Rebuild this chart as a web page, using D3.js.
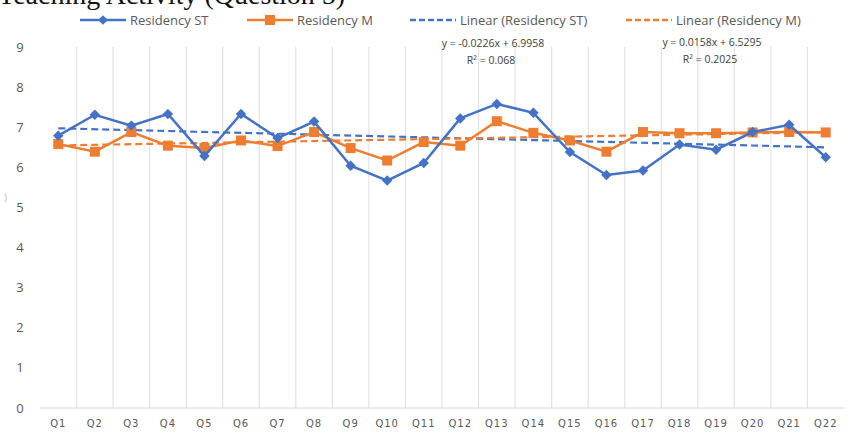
<!DOCTYPE html>
<html>
<head>
<meta charset="utf-8">
<script src="https://cdn.jsdelivr.net/npm/d3@7"></script>
<style>
  body { margin: 0; background: #fff; }
  svg { display: block; }
</style>
</head>
<body>
<svg id="chart" width="858" height="435"></svg>
<script>
// data
const questions = ["Q1","Q2","Q3","Q4","Q5","Q6","Q7","Q8","Q9","Q10","Q11",
                   "Q12","Q13","Q14","Q15","Q16","Q17","Q18","Q19","Q20","Q21","Q22"];
const residencyST = [6.79, 7.31, 7.04, 7.33, 6.28, 7.33, 6.73, 7.14, 6.04, 5.67, 6.11,
                     7.22, 7.58, 7.36, 6.38, 5.81, 5.92, 6.57, 6.44, 6.88, 7.06, 6.25];
const residencyM = [6.58, 6.39, 6.88, 6.54, 6.48, 6.67, 6.53, 6.88, 6.48, 6.17, 6.63,
                    6.54, 7.15, 6.86, 6.67, 6.39, 6.88, 6.85, 6.85, 6.87, 6.88, 6.87];
const yTicks = [0, 1, 2, 3, 4, 5, 6, 7, 8, 9];
// trendline coefficients as printed on the chart
const trendST = { slope: -0.0226, intercept: 6.9958, eq: "y = -0.0226x + 6.9958", r2: "R² = 0.068" };
const trendM = { slope: 0.0158, intercept: 6.5295, eq: "y = 0.0158x + 6.5295", r2: "R² = 0.2025" };

const blue = "#4472c4";
const orange = "#ed7d31";
const textGray = "#595959";

const svg = d3.select("#chart");
const margin = { top: 47, right: 14, bottom: 27, left: 40 };
const width = 858 - margin.left - margin.right;
const height = 435 - margin.top - margin.bottom;

// title, cut off at the top of the picture
svg.append("text")
  .attr("x", -2).attr("y", 4)
  .attr("font-family", "Liberation Serif, serif")
  .attr("font-size", 28)
  .attr("fill", "#111")
  .text("Teaching Activity (Question 5)");

const g = svg.append("g").attr("transform", `translate(${margin.left},${margin.top})`);

const x = d3.scaleBand().domain(questions).range([0, width]);
const y = d3.scaleLinear().domain([0, 9]).range([height, 0]);
const xc = d => x(d) + x.bandwidth() / 2;

// vertical gridlines at category edges
g.selectAll(".vgrid")
  .data(questions.slice(1))
  .join("line")
  .attr("class", "vgrid")
  .attr("x1", d => x(d)).attr("x2", d => x(d))
  .attr("y1", 0).attr("y2", height)
  .attr("stroke", "#e2e2e2")
  .attr("stroke-width", 1.2);

// bottom axis line
g.append("line")
  .attr("x1", 0).attr("x2", width)
  .attr("y1", height).attr("y2", height)
  .attr("stroke", "#d9d9d9");

// y tick labels
g.selectAll(".ylab")
  .data(yTicks)
  .join("text")
  .attr("class", "ylab")
  .attr("x", -20).attr("y", d => y(d))
  .attr("dy", "0.35em")
  .attr("text-anchor", "middle")
  .attr("font-family", "Open Sans, sans-serif")
  .attr("font-size", 13)
  .attr("fill", textGray)
  .text(d => d);

// x tick labels
g.selectAll(".xlab")
  .data(questions)
  .join("text")
  .attr("class", "xlab")
  .attr("x", d => xc(d)).attr("y", height + 19)
  .attr("text-anchor", "middle")
  .attr("font-family", "DejaVu Sans, sans-serif")
  .attr("font-size", 10)
  .attr("letter-spacing", 1)
  .attr("fill", textGray)
  .text(d => d);

// stray mark left of the axis
svg.append("text")
  .attr("x", 4).attr("y", 201)
  .attr("font-family", "Open Sans, sans-serif")
  .attr("font-size", 10)
  .attr("fill", "#bbb")
  .text(")");

// trendlines, drawn from the printed equations (x = 1..22)
function trendPoints(t) {
  return [questions[0], questions[questions.length - 1]].map(q => {
    const n = questions.indexOf(q) + 1;
    return [xc(q), y(t.slope * n + t.intercept)];
  });
}
g.append("path")
  .attr("d", d3.line()(trendPoints(trendST)))
  .attr("stroke", blue).attr("stroke-width", 2.2)
  .attr("stroke-dasharray", "7,4").attr("fill", "none");
g.append("path")
  .attr("d", d3.line()(trendPoints(trendM)))
  .attr("stroke", orange).attr("stroke-width", 2.2)
  .attr("stroke-dasharray", "7,4").attr("fill", "none");

const line = d3.line().x((d, i) => xc(questions[i])).y(d => y(d));

// Residency M (orange squares)
g.append("path")
  .attr("d", line(residencyM))
  .attr("stroke", orange).attr("stroke-width", 2.5).attr("fill", "none");
g.selectAll(".ptM")
  .data(residencyM)
  .join("rect")
  .attr("class", "ptM")
  .attr("x", (d, i) => xc(questions[i]) - 5)
  .attr("y", d => y(d) - 5)
  .attr("width", 10).attr("height", 10)
  .attr("fill", orange);

// Residency ST (blue diamonds)
g.append("path")
  .attr("d", line(residencyST))
  .attr("stroke", blue).attr("stroke-width", 2.5).attr("fill", "none");
g.selectAll(".ptST")
  .data(residencyST)
  .join("path")
  .attr("class", "ptST")
  .attr("d", d3.symbol(d3.symbolDiamond2, 70))
  .attr("transform", (d, i) => `translate(${xc(questions[i])},${y(d)})`)
  .attr("fill", blue);

// equation labels
const eqs = [
  { t: trendST, x: 493, y: 47 },
  { t: trendM, x: 712, y: 46 }
];
eqs.forEach(e => {
  svg.append("text")
    .attr("x", e.x).attr("y", e.y)
    .attr("text-anchor", "middle")
    .attr("font-family", "Open Sans, sans-serif")
    .attr("font-size", 10.5)
    .attr("fill", "#404040")
    .text(e.t.eq);
  svg.append("text")
    .attr("x", e.x - 2).attr("y", e.y + 17)
    .attr("text-anchor", "middle")
    .attr("font-family", "Open Sans, sans-serif")
    .attr("font-size", 10.5)
    .attr("fill", "#404040")
    .text(e.t.r2);
});

// legend
const legendItems = [
  { label: "Residency ST", color: blue, dash: null, marker: "diamond", x: 80 },
  { label: "Residency M", color: orange, dash: null, marker: "square", x: 247 },
  { label: "Linear (Residency ST)", color: blue, dash: "6,3", marker: null, x: 410 },
  { label: "Linear (Residency M)", color: orange, dash: "6,3", marker: null, x: 626 }
];
const legend = svg.append("g").attr("transform", "translate(0,20)");
legendItems.forEach(item => {
  const lg = legend.append("g").attr("transform", `translate(${item.x},0)`);
  lg.append("line")
    .attr("x1", 0).attr("x2", 46).attr("y1", 0).attr("y2", 0)
    .attr("stroke", item.color).attr("stroke-width", 2.5)
    .attr("stroke-dasharray", item.dash);
  if (item.marker === "diamond") {
    lg.append("path").attr("d", d3.symbol(d3.symbolDiamond2, 60))
      .attr("transform", "translate(23,0)").attr("fill", item.color);
  } else if (item.marker === "square") {
    lg.append("rect").attr("x", 18).attr("y", -5).attr("width", 10).attr("height", 10)
      .attr("fill", item.color);
  }
  lg.append("text")
    .attr("x", 50).attr("y", 0).attr("dy", "0.35em")
    .attr("font-family", "Open Sans, sans-serif")
    .attr("font-size", 13)
    .attr("fill", textGray)
    .text(item.label);
});
</script>
</body>
</html>
